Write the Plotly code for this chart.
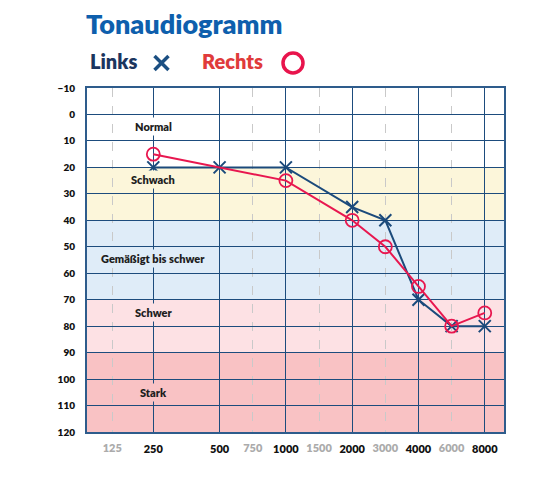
import plotly.graph_objects as go

# ---- data ----
freq_labels_main = ["250", "500", "1000", "2000", "4000", "8000"]
freq_labels_mid = ["125", "750", "1500", "3000", "6000"]

links_freq = [250, 500, 1000, 2000, 3000, 4000, 6000, 8000]
links_db = [20, 20, 20, 35, 40, 70, 80, 80]

rechts_freq = [250, 1000, 2000, 3000, 4000, 6000, 8000]
rechts_db = [15, 25, 40, 50, 65, 80, 75]

band_names = ["Normal", "Schwach", "Gemäßigt bis schwer", "Schwer", "Stark"]
band_from = [-10, 20, 40, 70, 90]
band_to = [20, 40, 70, 90, 120]
band_label_db = [4.5, 24.5, 54.5, 75, 105]

db_ticks = list(range(-10, 121, 10))

# ---- axis scale: frequency -> audiogram position (octaves, half-octave midpoints) ----
FREQ_POS = {125: 0.38, 250: 1, 500: 2, 750: 2.5, 1000: 3, 1500: 3.5,
            2000: 4, 3000: 4.5, 4000: 5, 6000: 5.5, 8000: 6}
XR = [0, 6.29]

band_colors = ["#FFFFFF", "#FCF6DA", "#DFECF8", "#FDE1E4", "#F9C2C4"]
label_bg = ["#FFFFFF", "#FCF6DA", "#DFECF8", "#FDE1E4", "#F9C2C4"]

GRID = "#1D4C7D"
FONT = "Lato"
HEAVY = 800

# page geometry (browser body adds an 8px offset)
OFF = 8
W, H = 548 - OFF, 492 - OFF
L, R, T, B = 87 - OFF, 44, 88 - OFF, 60
PW, PH = W - L - R, H - T - B


def px(xp):  # page pixel x -> paper
    return (xp - OFF - L) / PW


def py(yp):  # page pixel y -> paper
    return (H - B - (yp - OFF)) / PH


fig = go.Figure()

fig.add_trace(go.Scatter(
    x=[FREQ_POS[f] for f in links_freq], y=links_db, mode="lines+markers",
    line=dict(color="#1B4A7B", width=2),
    marker=dict(symbol="x-thin", size=12, line=dict(color="#1B4A7B", width=2)),
    showlegend=False, hoverinfo="skip"))

fig.add_trace(go.Scatter(
    x=[FREQ_POS[f] for f in rechts_freq], y=rechts_db, mode="lines+markers",
    line=dict(color="#E8174F", width=2),
    marker=dict(symbol="circle-open", size=13, color="#E8174F", line=dict(width=1.8)),
    showlegend=False, hoverinfo="skip"))

# gray labels axis (overlay)
fig.add_trace(go.Scatter(x=[None], y=[None], xaxis="x2", yaxis="y", showlegend=False))

shapes = []
for b0, b1, c in zip(band_from, band_to, band_colors):
    shapes.append(dict(type="rect", xref="paper", yref="y", x0=0, x1=1, y0=b0, y1=b1,
                       fillcolor=c, line=dict(width=0), layer="below"))

shapes.append(dict(type="path", xref="paper", yref="paper", xsizemode="pixel", ysizemode="pixel",
                   xanchor=px(161.5), yanchor=py(63),
                   path="M-7,-7 L7,7 M-7,7 L7,-7", line=dict(color="#1B4F82", width=3.5)))
shapes.append(dict(type="circle", xref="paper", yref="paper", xsizemode="pixel", ysizemode="pixel",
                   xanchor=px(293), yanchor=py(63), x0=-10, x1=10, y0=-10, y1=10,
                   line=dict(color="#E8144C", width=3.5)))

annotations = [
    dict(text="Tonaudiogramm", xref="paper", yref="paper", x=px(84), y=py(23),
         xanchor="left", yanchor="middle", showarrow=False,
         font=dict(family=FONT, size=27, color="#0E5FAD", weight=HEAVY)),
    dict(text="Links", xref="paper", yref="paper", x=px(88), y=py(61),
         xanchor="left", yanchor="middle", showarrow=False,
         font=dict(family=FONT, size=20, color="#1B355E", weight=HEAVY)),
    dict(text="Rechts", xref="paper", yref="paper", x=px(200), y=py(61),
         xanchor="left", yanchor="middle", showarrow=False,
         font=dict(family=FONT, size=20, color="#E03B3B", weight=HEAVY)),
]
for name, ydb, bg in zip(band_names, band_label_db, label_bg):
    annotations.append(dict(text=name, x=FREQ_POS[250], y=ydb, xref="x", yref="y",
                            showarrow=False,
                            font=dict(family=FONT, size=11, color="#1E1E1E", weight=HEAVY),
                            bgcolor=bg, borderpad=2))

fig.update_layout(
    width=W, height=H,
    margin=dict(l=L, r=R, t=T, b=B),
    paper_bgcolor="white", plot_bgcolor="rgba(0,0,0,0)",
    shapes=shapes, annotations=annotations,
    xaxis=dict(range=XR, tickmode="array",
               tickvals=[FREQ_POS[int(f)] for f in freq_labels_main], ticktext=freq_labels_main,
               showgrid=True, gridcolor=GRID, gridwidth=1.3,
               minor=dict(tickmode="array", tickvals=[FREQ_POS[int(f)] for f in freq_labels_mid],
                          showgrid=True, gridcolor="#C9C9C9", griddash="dash", gridwidth=1),
               showline=True, linecolor="#2E5C8C", linewidth=2, mirror=True,
               ticks="outside", ticklen=6, tickcolor="rgba(0,0,0,0)",
               tickfont=dict(family=FONT, size=11, color="#111111", weight=HEAVY),
               zeroline=False, fixedrange=True),
    xaxis2=dict(range=XR, overlaying="x", side="bottom", anchor="y", tickmode="array",
                tickvals=[FREQ_POS[int(f)] for f in freq_labels_mid], ticktext=freq_labels_mid,
                showgrid=False, showline=False, zeroline=False,
                ticks="outside", ticklen=6, tickcolor="rgba(0,0,0,0)",
                tickfont=dict(family=FONT, size=11, color="#ABABAB", weight=HEAVY)),
    yaxis=dict(range=[120, -10], tickmode="array", tickvals=db_ticks,
               showgrid=True, gridcolor=GRID, gridwidth=1.3,
               showline=True, linecolor="#2E5C8C", linewidth=2, mirror=True,
               ticks="outside", ticklen=8, tickcolor="rgba(0,0,0,0)",
               tickfont=dict(family=FONT, size=10, color="#111111", weight=HEAVY),
               zeroline=False, fixedrange=True),
)

fig.write_html("out.html")
